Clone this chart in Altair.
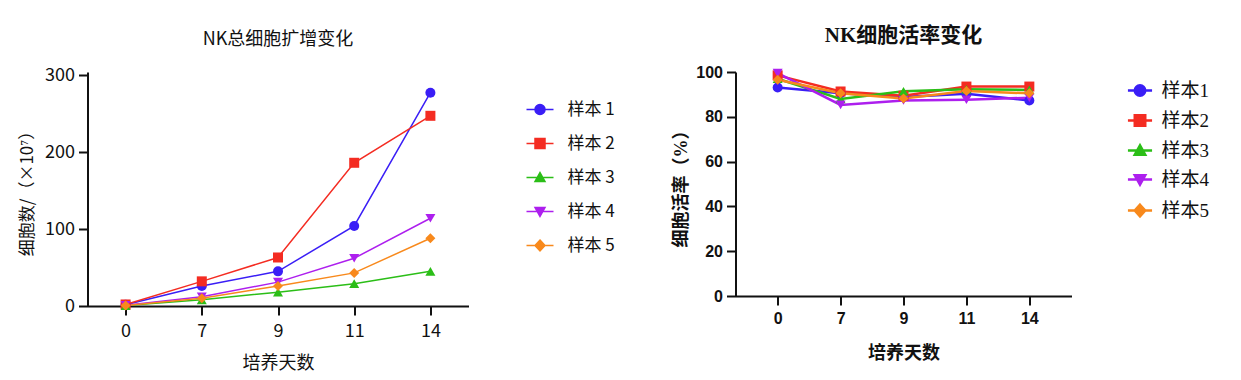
import altair as alt
import pandas as pd

days = ["0", "7", "9", "11", "14"]
samples = ["样本1", "样本2", "样本3", "样本4", "样本5"]
colors = ["#3A1EF6", "#F42C22", "#2BBE17", "#AD1FEE", "#F8891C"]
shapes = ["circle", "square", "triangle-up", "triangle-down", "diamond"]

count_s1 = [1.5, 26, 45, 104, 277]
count_s2 = [2, 32, 63, 186, 247]
count_s3 = [0.5, 8, 18, 29, 45]
count_s4 = [1, 12, 31, 62, 114]
count_s5 = [0.5, 10, 26, 43, 88]

viab_s1 = [93.1, 90.5, 88.8, 90.3, 87.3]
viab_s2 = [98.5, 91.3, 89.4, 93.5, 93.5]
viab_s3 = [97.0, 88.0, 91.4, 92.3, 92.0]
viab_s4 = [99.5, 85.3, 87.3, 87.6, 88.5]
viab_s5 = [96.5, 90.5, 88.2, 91.5, 90.5]


def long_table(series):
    rows = []
    for name, vals in zip(samples, series):
        for d, v in zip(days, vals):
            rows.append({"day": d, "sample": name, "value": v})
    return pd.DataFrame(rows)


count_df = long_table([count_s1, count_s2, count_s3, count_s4, count_s5])
viab_df = long_table([viab_s1, viab_s2, viab_s3, viab_s4, viab_s5])

marker_paths = [
    "M1,0A1,1 0 1,1 -1,0A1,1 0 1,1 1,0Z",
    "M-1,-1H1V1H-1Z",
    "M0,-1L1,0.8H-1Z",
    "M0,1L1,-0.8H-1Z",
    "M0,-1.1L1,0L0,1.1L-1,0Z",
]


def legend_paths(half):
    return ["M-%s,0H%s" % (half, half) + p for p in marker_paths]


def build_panel(df, title, ytitle, ydomain, yticks, width, height, pad, style):
    x = alt.X(
        "day:O",
        sort=days,
        title="培养天数",
        scale=alt.Scale(type="point", padding=pad),
        axis=alt.Axis(
            labelAngle=0,
            labelFont=style["tickFont"],
            labelFontSize=style["tickSize"],
            labelFontWeight=style["tickWeight"],
            labelColor="#111",
            labelPadding=style["xLabelPad"],
            titleFont=style["titleFont"],
            titleFontSize=style["axisTitleSize"],
            titleFontWeight=style["titleWeight"],
            titleColor="#111",
            titlePadding=style["xTitlePad"],
            domainColor="#111",
            domainWidth=2,
            tickColor="#111",
            tickWidth=2,
            tickSize=9,
            grid=False,
        ),
    )
    y = alt.Y(
        "value:Q",
        title=ytitle,
        scale=alt.Scale(domain=ydomain, nice=False),
        axis=alt.Axis(
            values=yticks,
            labelFont=style["tickFont"],
            labelFontSize=style["tickSize"],
            labelFontWeight=style["tickWeight"],
            labelColor="#111",
            labelPadding=4,
            titleFont=style["titleFont"],
            titleFontSize=style["yTitleSize"],
            titleFontWeight=style["titleWeight"],
            titleColor="#111",
            titlePadding=style["yTitlePad"],
            domainColor="#111",
            domainWidth=2,
            tickColor="#111",
            tickWidth=2,
            tickSize=9,
            grid=False,
        ),
    )
    color = alt.Color("sample:N", scale=alt.Scale(domain=samples, range=colors), legend=None)
    lines = alt.Chart(df).mark_line(strokeWidth=style["lineWidth"]).encode(
        x=x, y=y, color=color, detail="sample:N"
    )
    points = alt.Chart(df).mark_point(filled=True, opacity=1, size=style["markSize"]).encode(
        x=x,
        y=y,
        color=color,
        shape=alt.Shape("sample:N", scale=alt.Scale(domain=samples, range=shapes), legend=None),
    )
    leg = alt.Legend(
        title=None,
        orient="none",
        legendX=style["legX"],
        legendY=style["legY"],
        padding=0,
        labelFont=style["legFont"],
        labelFontSize=style["legSize"],
        labelColor="#111",
        labelOffset=style["legLabelOffset"],
        rowPadding=style["legRowPad"],
        symbolSize=style["legSymSize"],
        symbolStrokeWidth=style["legStroke"],
        labelExpr=style["labelExpr"],
    )
    legend_layer = (
        alt.Chart(df)
        .mark_point(filled=True, opacity=1)
        .encode(
            x=x,
            y=y,
            fill=alt.Fill("sample:N", scale=alt.Scale(domain=samples, range=colors), legend=leg),
            stroke=alt.Stroke("sample:N", scale=alt.Scale(domain=samples, range=colors), legend=leg),
            shape=alt.Shape(
                "sample:N",
                scale=alt.Scale(domain=samples, range=legend_paths(style["legHalf"])),
                legend=leg,
            ),
        )
        .transform_filter("false")
    )
    return (
        alt.layer(lines, points, legend_layer)
        .resolve_scale(shape="independent", fill="independent", stroke="independent")
        .properties(
            width=width,
            height=height,
            title=alt.TitleParams(
                title,
                font=style["mainFont"],
                fontSize=style["mainSize"],
                fontWeight=style["mainWeight"],
                color="#111",
                anchor="middle",
                offset=style["mainOffset"],
            ),
        )
    )


left_style = dict(
    tickFont="Noto Sans CJK SC", tickSize=18, tickWeight="normal",
    titleFont="Noto Sans CJK SC", titleWeight="normal", axisTitleSize=18, yTitleSize=17,
    xLabelPad=7, xTitlePad=14, yTitlePad=8.5,
    lineWidth=1.5, markSize=100,
    legX=444, legY=29, legFont="Noto Sans CJK SC", legSize=17, legLabelOffset=19,
    legRowPad=16, legSymSize=100, legStroke=1.5, legHalf=2.7,
    labelExpr="replace(datum.label, '本', '本 ')",
    mainFont="Noto Sans CJK SC", mainSize=18, mainWeight="normal", mainOffset=17,
)
right_style = dict(
    tickFont="Liberation Sans", tickSize=16, tickWeight="bold",
    titleFont="Liberation Serif, Noto Sans CJK SC", titleWeight="bold", axisTitleSize=18, yTitleSize=18,
    xLabelPad=5, xTitlePad=18, yTitlePad=5,
    lineWidth=2.5, markSize=100,
    legX=395, legY=9, legFont="Liberation Serif, Noto Sans CJK SC", legSize=19, legLabelOffset=12,
    legRowPad=9, legSymSize=110, legStroke=2.5, legHalf=2.3,
    labelExpr="datum.label",
    mainFont="Liberation Serif, Noto Sans CJK SC", mainSize=21, mainWeight="bold", mainOffset=18,
)

# left plot: 300 sits 3px below the shared top edge of both panels
left = build_panel(count_df, "NK总细胞扩增变化", "细胞数/（×10⁷）", [0, 300 * 234 / 231],
                   [0, 100, 200, 300], 381, 234, 0.5, left_style)
right = build_panel(viab_df, "NK细胞活率变化", "细胞活率（%）", [0, 100],
                    [0, 20, 40, 60, 80, 100], 336, 224, 0.67, right_style)

chart = (
    alt.hconcat(left, right, spacing=57)
    .resolve_scale(color="independent", shape="independent", fill="independent", stroke="independent")
    .resolve_legend(color="independent", shape="independent", fill="independent", stroke="independent")
    .properties(padding={"left": 9.5, "top": 17, "right": 5, "bottom": 5}, background="white")
    .configure_view(strokeWidth=0, stroke=None)
)

chart.save("out.html", embed_options={"renderer": "svg", "actions": False})
